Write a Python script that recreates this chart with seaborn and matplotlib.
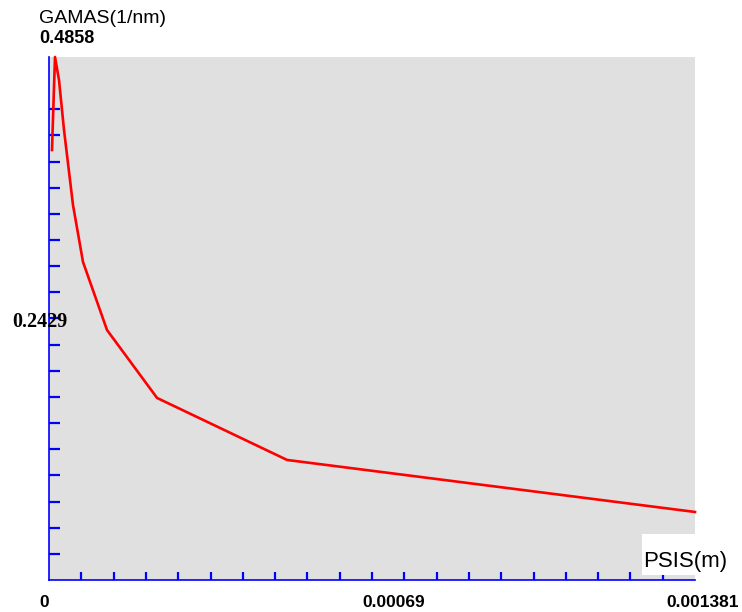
import matplotlib
matplotlib.use("Agg")
import matplotlib.pyplot as plt
from matplotlib.patches import Rectangle
import numpy as np
import pandas as pd
import seaborn as sns

# GAMAS profile along PSIS
psis = [6.4e-6, 1.28e-5, 2.14e-5, 3.21e-5, 5.13e-5, 7.27e-5, 1.24e-4, 2.31e-4, 5.09e-4, 1.381e-3]
gamas = [0.3994, 0.4858, 0.4644, 0.4180, 0.3483, 0.2954, 0.2322, 0.1691, 0.1115, 0.0632]

x_max = 0.001381
y_max = 0.4858
x_tick_labels = ["0", "0.00069", "0.001381"]
y_mid_label = "0.2429"
y_top_label = "0.4858"
y_title = "GAMAS(1/nm)"
x_title = "PSIS(m)"

W, H = 742, 612
fig = plt.figure(figsize=(W / 100, H / 100), dpi=100)
fig.patch.set_facecolor("white")

# axes box in pixels: left 49, right 695, top 57, bottom 580
L, R, T, B = 49, 695, 57, 580
ax = fig.add_axes([L / W, 1 - B / H, (R - L) / W, (B - T) / H])
ax.set_facecolor("#e0e0e0")

df = pd.DataFrame({"PSIS": psis, "GAMAS": gamas})
sns.lineplot(data=df, x="PSIS", y="GAMAS", ax=ax, color="red", linewidth=1.9,
             estimator=None, sort=False, clip_on=False)

ax.set_xlim(0, x_max)
ax.set_ylim(0, y_max)
ax.set_xlabel("")
ax.set_ylabel("")

blue = "#0000ff"
for side in ("top", "right"):
    ax.spines[side].set_visible(False)
for side in ("left", "bottom"):
    ax.spines[side].set_color(blue)
    ax.spines[side].set_linewidth(1.2)

ax.set_xticks([x_max * k / 20 for k in range(1, 20)])
ax.set_yticks([y_max * k / 20 for k in range(1, 19)])
ax.set_xticklabels([])
ax.set_yticklabels([])
ax.tick_params(axis="x", direction="in", length=5.8, width=1.6, color=blue)
ax.tick_params(axis="y", direction="in", length=7.9, width=1.6, color=blue)
ax.grid(False)

# white box behind the x-axis title
ax.add_patch(Rectangle(((642 - L) / (R - L), (B - 575) / (B - T)),
                       (R - 642) / (R - L) + 0.01, (575 - 534) / (B - T),
                       transform=ax.transAxes, facecolor="white", edgecolor="none",
                       zorder=10, clip_on=False))


def ftext(px, py, s, **kw):
    fig.text(px / W, 1 - py / H, s, va="baseline", ha="left", **kw)


sans = ["Liberation Sans", "DejaVu Sans"]
serif = ["Liberation Serif", "DejaVu Serif"]

ftext(39, 23, y_title, family=sans, fontsize=14)
ftext(39, 43, y_top_label, family=sans, fontsize=13, fontweight="bold")
fig.text(12 / W, 1 - 327 / H, y_mid_label, va="baseline", ha="left",
         family=serif, fontsize=14.5, fontweight="bold", zorder=20)
for px, lab in zip([39, 362, 666], x_tick_labels):
    ftext(px, 607, lab, family=sans, fontsize=12.5, fontweight="bold")
fig.text(643 / W, 1 - 567 / H, x_title, va="baseline", ha="left",
         family=sans, fontsize=16, zorder=20)

fig.savefig("out.png", dpi=100)
